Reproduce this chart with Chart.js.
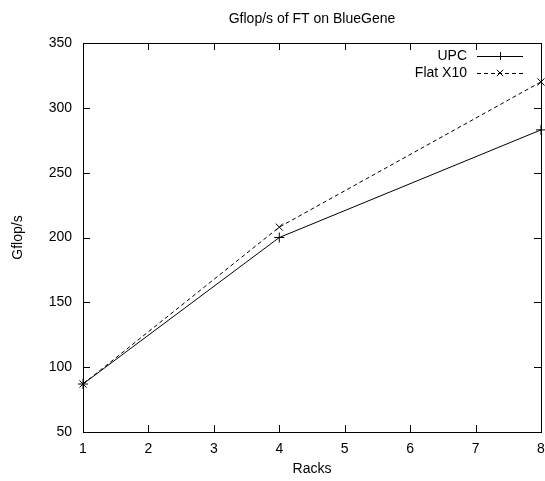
<!DOCTYPE html>
<html><head><meta charset="utf-8">
<script src="https://cdn.jsdelivr.net/npm/chart.js@4/dist/chart.umd.min.js"></script>
<style>html,body{margin:0;padding:0;background:#fff}#wrap{width:545px;height:481px}</style>
</head><body><div id="wrap"><canvas id="c" width="545" height="481"></canvas></div>
<script>
const racks = [1, 4, 8];
const upc = [87, 200, 283];
const flatX10 = [87, 208, 320];
const seriesNames = ['UPC', 'Flat X10'];
const xTicks = [1, 2, 3, 4, 5, 6, 7, 8];
const yTicks = [50, 100, 150, 200, 250, 300, 350];
const titleText = 'Gflop/s of FT on BlueGene';
const xTitle = 'Racks';
const yTitle = 'Gflop/s';

const FONT = '"Liberation Sans", Arial, sans-serif';
const FS = 14;

const frame = {
  id: 'frame',
  afterDatasetsDraw(chart) {
    const {ctx, chartArea: a, scales: {x, y}} = chart;
    ctx.save();
    ctx.strokeStyle = '#000';
    ctx.lineWidth = 1;
    ctx.beginPath();
    xTicks.forEach(v => {
      const px = Math.round(x.getPixelForValue(v)) + 0.5;
      ctx.moveTo(px, a.bottom); ctx.lineTo(px, a.bottom - 7);
      ctx.moveTo(px, a.top); ctx.lineTo(px, a.top + 7);
    });
    yTicks.forEach(v => {
      const py = Math.round(y.getPixelForValue(v)) + 0.5;
      ctx.moveTo(a.left, py); ctx.lineTo(a.left + 7, py);
      ctx.moveTo(a.right, py); ctx.lineTo(a.right - 7, py);
    });
    ctx.stroke();
    ctx.strokeRect(Math.round(a.left) + 0.5, Math.round(a.top) + 0.5, Math.round(a.right - a.left), Math.round(a.bottom - a.top));
    // title
    ctx.fillStyle = '#000';
    ctx.font = FS + 'px ' + FONT;
    ctx.textAlign = 'center';
    ctx.textBaseline = 'middle';
    ctx.fillText(titleText, (a.left + a.right) / 2, 19);
    ctx.fillText(xTitle, (a.left + a.right) / 2, 469);
    ctx.save();
    ctx.translate(18, (a.top + a.bottom) / 2);
    ctx.rotate(-Math.PI / 2);
    ctx.fillText(yTitle, 0, 0);
    ctx.restore();
    // legend
    chart.data.datasets.forEach((ds, i) => {
      const ty = 56 + i * 17;
      ctx.font = FS + 'px ' + FONT;
      ctx.textAlign = 'right';
      ctx.fillStyle = '#000';
      ctx.fillText(ds.label, 467, ty);
      ctx.setLineDash(ds.borderDash || []);
      ctx.beginPath();
      ctx.moveTo(477, ty + 0.5); ctx.lineTo(523, ty + 0.5);
      ctx.stroke();
      ctx.setLineDash([]);
      const cx = 500, r = 4;
      ctx.beginPath();
      if (ds.pointStyle === 'cross') {
        ctx.moveTo(cx - r, ty + 0.5); ctx.lineTo(cx + r, ty + 0.5);
        ctx.moveTo(cx + 0.5, ty - r); ctx.lineTo(cx + 0.5, ty + r);
      } else {
        ctx.moveTo(cx - r * 0.8, ty - r * 0.8); ctx.lineTo(cx + r * 0.8, ty + r * 0.8);
        ctx.moveTo(cx - r * 0.8, ty + r * 0.8); ctx.lineTo(cx + r * 0.8, ty - r * 0.8);
      }
      ctx.stroke();
    });
    ctx.restore();
  }
};

new Chart(document.getElementById('c'), {
  type: 'scatter',
  data: {
    datasets: [
      {label: seriesNames[0], data: racks.map((r, i) => ({x: r, y: upc[i]})), showLine: true,
       borderColor: '#000', backgroundColor: '#000', borderWidth: 1, pointStyle: 'cross', pointRadius: 5,
       pointBorderWidth: 1, pointHoverRadius: 5, clip: false},
      {label: seriesNames[1], data: racks.map((r, i) => ({x: r, y: flatX10[i]})), showLine: true,
       borderColor: '#000', backgroundColor: '#000', borderWidth: 1, borderDash: [4, 3], pointStyle: 'crossRot', pointRadius: 5,
       pointBorderWidth: 1, pointHoverRadius: 5, clip: false}
    ]
  },
  options: {
    responsive: false, animation: false, devicePixelRatio: 1,
    layout: {padding: {top: 43, right: 4, left: 0, bottom: 0}, autoPadding: false},
    plugins: {legend: {display: false}, title: {display: false}, tooltip: {enabled: false}},
    scales: {
      x: {type: 'linear', min: 1, max: 8, border: {display: false},
          grid: {display: false, drawTicks: false},
          afterBuildTicks: s => { s.ticks = xTicks.map(v => ({value: v})); },
          afterFit: s => { s.height = 49; s.paddingLeft = 0; s.paddingRight = 0; },
          ticks: {padding: 9, color: '#000', font: {family: FONT, size: FS}, maxRotation: 0, autoSkip: false}},
      y: {type: 'linear', min: 50, max: 350, border: {display: false},
          grid: {display: false, drawTicks: false},
          afterBuildTicks: s => { s.ticks = yTicks.map(v => ({value: v})); },
          afterFit: s => { s.width = 83; s.paddingTop = 0; s.paddingBottom = 0; },
          ticks: {padding: 11, color: '#000', font: {family: FONT, size: FS}, autoSkip: false}}
    }
  },
  plugins: [frame]
});
</script></body></html>
